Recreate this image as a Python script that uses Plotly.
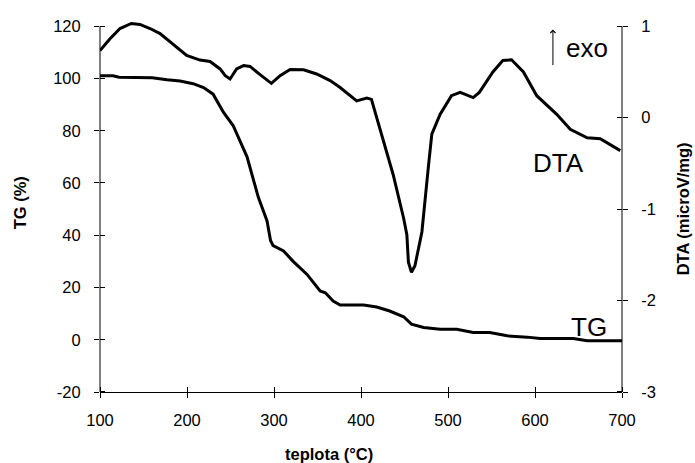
import plotly.graph_objects as go

# ---- data ----
tg_temp = [100, 115, 122, 160, 177, 192, 207, 219, 230, 242, 253, 269, 282, 292, 296, 299,
           311, 322, 338, 353, 359, 368, 376, 403, 418, 433, 449, 458, 472, 491, 510, 529,
           548, 568, 591, 606, 644, 660, 700]
tg_vals = [101, 101, 100.5, 100.3, 99.5, 99, 98, 96.5, 94, 87, 82, 70, 54.5, 45.5, 38, 36,
           34, 30, 25, 18.7, 18, 14.8, 13.3, 13.3, 12.5, 11, 8.8, 6, 4.7, 4, 4, 2.8,
           2.8, 1.5, 1.0, 0.5, 0.5, -0.4, -0.4]

dta_temp = [100, 111.5, 123, 136, 146, 157.5, 169, 180.5, 188, 199.6, 215, 226.5, 238, 244,
            249.5, 257, 265, 272.5, 284, 297, 307, 318.5, 334, 349, 364.5, 376, 395, 406.7,
            412, 426, 437, 449, 452.7, 454.5, 458, 462, 468, 470, 477.7, 481.4, 491, 504,
            514, 529, 536, 551.6, 563, 573, 586.7, 602, 625, 640.5, 660, 675, 698]
dta_vals = [0.735, 0.864, 0.975, 1.03, 1.02, 0.975, 0.92, 0.83, 0.77, 0.68, 0.63, 0.614, 0.533,
            0.46, 0.423, 0.533, 0.57, 0.56, 0.47, 0.375, 0.46, 0.526, 0.523, 0.478, 0.405,
            0.33, 0.184, 0.214, 0.2, -0.257, -0.624, -1.10, -1.28, -1.58, -1.69, -1.62, -1.36,
            -1.25, -0.514, -0.18, 0.037, 0.24, 0.276, 0.22, 0.276, 0.5, 0.625, 0.633, 0.5,
            0.24, 0.037, -0.128, -0.22, -0.23, -0.36]

x_ticks = [100, 200, 300, 400, 500, 600, 700]
tg_ticks = [-20, 0, 20, 40, 60, 80, 100, 120]
dta_ticks = [-3, -2, -1, 0, 1]

FONT = "Arial, Liberation Sans, sans-serif"

# a little headroom above the top tick so the DTA peak can rise above it
TG_MIN, TG_MAX = tg_ticks[0], tg_ticks[-1]
DTA_MIN, DTA_MAX = dta_ticks[0], dta_ticks[-1]
head = 2.0
tg_range = [TG_MIN, TG_MAX + head]
dta_range = [DTA_MIN, DTA_MAX + head * (DTA_MAX - DTA_MIN) / (TG_MAX - TG_MIN)]

fig = go.Figure()
fig.add_trace(go.Scatter(x=tg_temp, y=tg_vals, mode="lines", name="TG",
                         line=dict(color="black", width=3), xaxis="x", yaxis="y"))
fig.add_trace(go.Scatter(x=dta_temp, y=dta_vals, mode="lines", name="DTA",
                         line=dict(color="black", width=3), xaxis="x", yaxis="y2"))

tick_font = dict(family=FONT, size=16.5, color="black")
axis_common = dict(showgrid=False, zeroline=False, linecolor="black",
                   linewidth=1, ticks="outside", ticklen=5, tickcolor="black", tickwidth=1,
                   tickfont=tick_font)

# inner half of the crossing tick marks
def minor_array(vals, eps):
    return dict(tickmode="array", tickvals=[v + eps for v in vals], ticks="inside",
                ticklen=5, tickcolor="black", tickwidth=1, showgrid=False)

def minor_linear(vals, eps):
    return dict(tickmode="linear", tick0=vals[0] + eps, dtick=vals[1] - vals[0],
                ticks="inside", ticklen=5, tickcolor="black", tickwidth=1, showgrid=False)

fig.update_layout(
    width=695, height=463,
    margin=dict(l=100, r=73, t=21, b=71),
    paper_bgcolor="white", plot_bgcolor="white",
    showlegend=False,
    font=dict(family=FONT, color="black"),
    xaxis=dict(**axis_common, showline=True, range=[100, 700], tickvals=x_ticks,
               ticktext=[str(v) for v in x_ticks], ticklabelstandoff=8,
               minor=minor_array(x_ticks, 0.01)),
    yaxis=dict(**axis_common, showline=False, range=tg_range, tickvals=tg_ticks,
               ticktext=[str(v) for v in tg_ticks],
               ticklabelstandoff=10, minor=minor_linear(tg_ticks, 0.002)),
    yaxis2=dict(**axis_common, showline=False, range=dta_range, tickvals=dta_ticks,
                ticktext=[str(v) for v in dta_ticks], overlaying="y", side="right",
                anchor="x", ticklabelstandoff=10, minor=minor_array(dta_ticks, 0.0001)),
)

# vertical axis lines ending at the top tick
fig.add_shape(type="line", xref="paper", yref="y", x0=0, x1=0, y0=TG_MIN, y1=TG_MAX,
              line=dict(color="black", width=1))
fig.add_shape(type="line", xref="paper", yref="y2", x0=1, x1=1, y0=DTA_MIN, y1=DTA_MAX,
              line=dict(color="black", width=1))

title_font = dict(family=FONT, size=16.5, color="black")
ann = []
ann.append(dict(text="<b>TG (%)</b>", xref="paper", yref="paper", x=-0.153, y=0.509,
                xanchor="center", yanchor="middle",
                textangle=-90, showarrow=False, font=title_font))
ann.append(dict(text="<b>DTA (microV/mg)</b>", xref="paper", yref="paper", x=1.117, y=0.4925,
                xanchor="center", yanchor="middle",
                textangle=-90, showarrow=False, font=title_font))
ann.append(dict(text="<b>teplota (°C)</b>", xref="paper", yref="paper", x=0.4387, y=-0.166,
                xanchor="center", yanchor="middle", showarrow=False, font=title_font))
ann.append(dict(text="DTA", xref="x", yref="y2", x=627, y=-0.5, showarrow=False,
                xanchor="center", yanchor="middle", font=dict(family=FONT, size=26)))
ann.append(dict(text="TG", xref="x", yref="y", x=662, y=5, showarrow=False,
                xanchor="center", yanchor="middle", font=dict(family=FONT, size=26)))
ann.append(dict(text="exo", xref="x", yref="y2", x=633, y=0.76, xanchor="left",
                yanchor="middle", showarrow=False, font=dict(family=FONT, size=26)))
ann.append(dict(text="", xref="x", yref="y", x=620.6, y=118.7, ax=0, ay=37,
                showarrow=True, arrowhead=4, arrowsize=1, arrowwidth=1,
                arrowcolor="black"))
fig.update_layout(annotations=ann)

fig.write_html("out.html", config={"displayModeBar": False},
               post_script="document.body.style.margin='0';")
